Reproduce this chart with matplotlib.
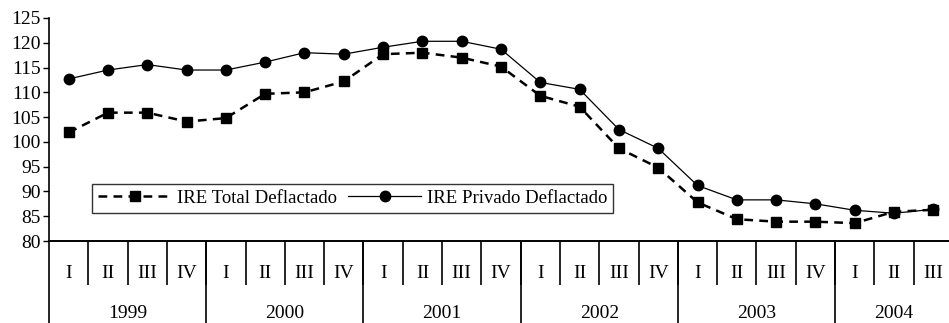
import matplotlib.pyplot as plt
import numpy as np

plt.rcParams["font.family"] = ["Liberation Serif", "DejaVu Serif"]

years = ["1999", "2000", "2001", "2002", "2003", "2004"]
quarters_per_year = [4, 4, 4, 4, 4, 3]
quarter_names = ["I", "II", "III", "IV"]

ire_total = [101.9, 105.9, 105.9, 104.1,
             104.8, 109.7, 110.0, 112.2,
             117.7, 118.0, 117.0, 115.2,
             109.3, 107.1, 98.7, 94.8,
             87.8, 84.4, 83.9, 83.9,
             83.6, 85.9, 86.3]
ire_privado = [112.7, 114.5, 115.6, 114.5,
               114.5, 116.1, 118.0, 117.7,
               119.1, 120.3, 120.3, 118.7,
               112.0, 110.6, 102.5, 98.7,
               91.2, 88.3, 88.3, 87.5,
               86.2, 85.6, 86.4]

n = len(ire_total)
x = np.arange(n) + 0.5
fs = 14

fig = plt.figure(figsize=(9.49, 3.23), dpi=100)
ax = fig.add_axes([49 / 949, 82 / 323, 904 / 949, 223 / 323])

ax.plot(x, ire_total, color="black", lw=1.8, ls=(0, (3.5, 2.5)),
        marker="s", ms=6.5, label="IRE Total Deflactado")
ax.plot(x, ire_privado, color="black", lw=0.9, ls="-",
        marker="o", ms=7.5, label="IRE Privado Deflactado")

ax.set_xlim(0, 23)
ax.set_ylim(80, 125)
ax.set_yticks(np.arange(80, 126, 5))
ax.set_xticks([])
ax.tick_params(axis="y", direction="out", length=4, width=1, labelsize=fs, pad=2)
for s in ["top", "right"]:
    ax.spines[s].set_visible(False)
ax.spines["left"].set_linewidth(1.2)
ax.spines["bottom"].set_linewidth(1.4)

# category table under the axis
tr = ax.get_xaxis_transform()
q_bottom = -44 / 223
y_bottom = -90 / 223
labels = []
for q in quarters_per_year:
    labels += quarter_names[:q]
for i, lab in enumerate(labels):
    ax.text(i + 0.5, -0.145, lab, transform=tr, ha="center", va="center", fontsize=fs)
ax.vlines(np.arange(1, n), q_bottom, 0, transform=tr, color="black", lw=1.2, clip_on=False)

starts = np.concatenate([[0], np.cumsum(quarters_per_year)])
ax.vlines(starts[:-1], y_bottom, 0, transform=tr, color="black", lw=1.2, clip_on=False)
for yr, a, b in zip(years, starts[:-1], starts[1:]):
    ax.text((a + b) / 2, -0.325, yr, transform=tr, ha="center", va="center", fontsize=fs)

leg = ax.legend(loc="lower left", bbox_to_anchor=(0.048, 0.127), ncol=2,
                fontsize=13.5, frameon=True, fancybox=False, borderaxespad=0,
                handlelength=3.9, handletextpad=0.3, columnspacing=0.6,
                borderpad=0.3)
leg.get_frame().set_edgecolor("black")
leg.get_frame().set_linewidth(1.0)

fig.savefig("out.png", dpi=100)
